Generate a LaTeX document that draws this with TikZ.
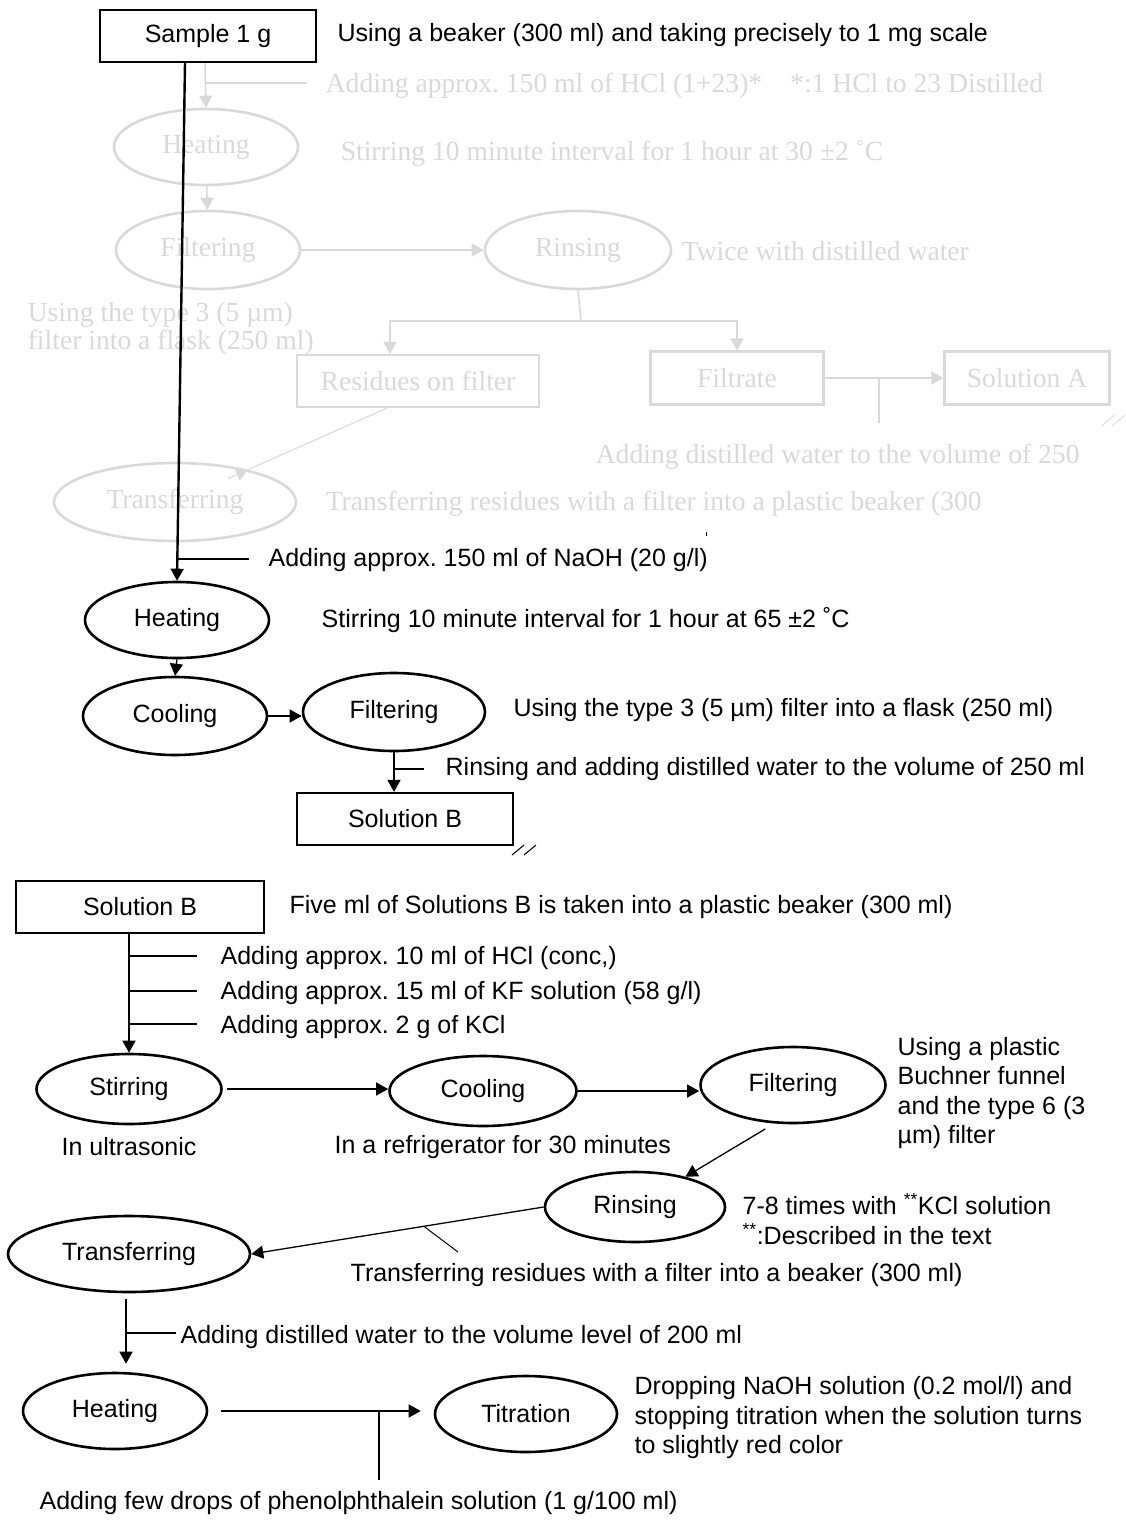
\documentclass[tikz,border=0pt]{standalone}
\usepackage{fontspec}
\setmainfont{Liberation Sans}
\newfontfamily\timesfont{Liberation Serif}
\usetikzlibrary{arrows.meta,shapes.geometric,calc}
\definecolor{faded}{RGB}{217,217,217}
\frenchspacing

\begin{document}
\begin{tikzpicture}[x=1pt,y=-1pt,>={Triangle[length=12pt,width=13pt]},line width=1.3pt,
  every node/.style={font=\fontsize{25}{29.5}\selectfont},
  proc node/.style={ellipse,draw,line width=2.6pt,inner sep=0pt,minimum width=184pt,minimum height=76pt},
  box node/.style={rectangle,draw,line width=2.2pt,inner sep=0pt,minimum height=52pt},
  note node/.style={anchor=west,inner sep=0pt,align=left},
  faded node/.style={color=faded,font=\timesfont\fontsize{27.6}{28.5}\selectfont}]

  \useasboundingbox (0,0) rectangle (1126,1520);

  % struck-out first route
  \begin{scope}[faded,line width=1.6pt]
    \node[proc node,faded node] (heatA) at (206,147) {Heating};
    \node[proc node,faded node,minimum height=78pt] (filtA) at (208,250) {Filtering};
    \node[proc node,faded node,minimum width=186pt,minimum height=78pt] (rinseA) at (578,250) {Rinsing};
    \node[box node,faded node,minimum width=242pt] (residues) at (418,381) {Residues on filter};
    \node[box node,faded node,minimum width=173pt,minimum height=53pt] (filtrate) at (737,378) {Filtrate};
    \node[box node,faded node,minimum width=165pt,minimum height=53pt] (solA) at (1027,378) {Solution A};
    \node[proc node,faded node,minimum width=242pt,minimum height=78pt] (transA) at (175,502) {Transferring};

    \node[note node,faded node] at (325,86) {Adding approx. 150 ml of HCl (1+23)*\hspace{28pt}*:1 HCl to 23 Distilled};
    \node[note node,faded node] at (340,153) {Stirring 10 minute interval for 1 hour at 30 ±2 ˚C};
    \node[note node,faded node] at (681,251) {Twice with distilled water};
    \node[note node,faded node] at (27,329) {Using the type 3 (5 µm)\\filter into a flask (250 ml)};
    \node[note node,faded node] at (595,457) {Adding distilled water to the volume of 250};
    \node[note node,faded node] at (325,504) {Transferring residues with a filter into a plastic beaker (300};

    \coordinate (hclA) at (307,83);
    \coordinate (split) at (581,321);
    \coordinate (dilA) at (879,423);
    \draw[->] (205,62) -- (heatA.north);
    \draw (hclA) -- (hclA -| heatA.north);
    \draw[->] (heatA) -- (filtA);
    \draw[->] (filtA) -- (rinseA);
    \draw (rinseA.south) -- (split);
    \draw[->] (split) -| ([xshift=-28pt]residues.north);
    \draw[->] (split) -| (filtrate.north);
    \draw[->] (filtrate) -- (solA);
    \draw (dilA) -- (dilA |- filtrate.east);
    \draw[line width=1pt] ([xshift=-31pt]residues.south) -- (transA);
    \draw[->,line width=1pt] ($([xshift=-31pt]residues.south)!0.75!(transA)$) -- (transA);
    \draw[line width=0.8pt] (1102,426) -- (1114,415) (1112,426) -- (1125,415);
  \end{scope}
  \draw[line width=1pt] (706,532) -- (706,536);

  % alkali route
  \node[box node,minimum width=216pt] (sample) at (208,36) {Sample 1 g};
  \node[proc node] (heatB) at (177,620) {Heating};
  \node[proc node,minimum height=78pt] (coolB) at (175,716) {Cooling};
  \node[proc node,minimum width=182pt,minimum height=78pt] (filtB) at (394,712) {Filtering};
  \node[box node,minimum width=216pt] (solB) at (405,819) {Solution B};

  \node[note node] at (337,35) {Using a beaker (300 ml) and taking precisely to 1 mg scale};
  \node[note node] at (268,560) {Adding approx. 150 ml of NaOH (20 g/l)};
  \node[note node] at (321,620) {Stirring 10 minute interval for 1 hour at 65 ±2 ˚C};
  \node[note node] at (513,710) {Using the type 3 (5 µm) filter into a flask (250 ml)};
  \node[note node] at (445,769) {Rinsing and adding distilled water to the volume of 250 ml};

  \coordinate (naoh) at (249,559);
  \coordinate (rinB) at (424,769);
  \draw[->,line width=2.4pt] ([xshift=-23pt]sample.south) -- (heatB.north);
  \draw (naoh) -- (naoh -| heatB.north);
  \draw[->] (heatB.south) -- (coolB.north);
  \draw[->] (coolB.east) -- (coolB.east -| filtB.west);
  \draw[->] (filtB.south) -- (filtB.south |- solB.north);
  \draw (rinB) -- (rinB -| filtB.south);
  \draw[line width=1pt] (512,855) -- (524,845) (524,855) -- (536,845);

  % fluoride titration
  \node[box node,minimum width=248pt] (solB2) at (140,907) {Solution B};
  \node[proc node,minimum width=185pt,minimum height=70pt] (stir) at (129,1089) {Stirring};
  \node[proc node,minimum width=187pt,minimum height=70pt] (coolC) at (483,1091) {Cooling};
  \node[proc node,minimum width=185pt] (filtC) at (793,1085) {Filtering};
  \node[proc node,minimum width=180pt,minimum height=70pt] (rinseC) at (635,1207) {Rinsing};
  \node[proc node,minimum width=242pt] (transC) at (129,1254) {Transferring};
  \node[proc node] (heatC) at (115,1411) {Heating};
  \node[proc node,minimum width=182pt] (titr) at (526,1414) {Titration};

  \node[note node] at (289,907) {Five ml of Solutions B is taken into a plastic beaker (300 ml)};
  \node[note node] at (220,958) {Adding approx. 10 ml of HCl (conc,)};
  \node[note node] at (220,993) {Adding approx. 15 ml of KF solution (58 g/l)};
  \node[note node] at (220,1027) {Adding approx. 2 g of KCl};
  \node[note node] at (61,1147) {In ultrasonic};
  \node[note node] at (334,1147) {In a refrigerator for 30 minutes};
  \node[note node] at (897,1093) {Using a plastic\\Buchner funnel\\and the type 6 (3\\µm) filter};
  \node[note node,align=left] at (742,1219) {7-8 times with \textsuperscript{**}KCl solution\\\textsuperscript{**}:Described in the text};
  \node[note node] at (350,1275) {Transferring residues with a filter into a beaker (300 ml)};
  \node[note node] at (180,1337) {Adding distilled water to the volume level of 200 ml};
  \node[note node] at (634,1418) {Dropping NaOH solution (0.2 mol/l) and\\stopping titration when the solution turns\\to slightly red color};
  \node[note node] at (39,1503) {Adding few drops of phenolphthalein solution (1 g/100 ml)};

  \coordinate (hclC) at (197,956);
  \coordinate (kfC) at (197,991);
  \coordinate (kclC) at (197,1024);
  \coordinate (waterC) at (176,1333);
  \coordinate (phen) at (379,1480);
  \coordinate (leader) at (458,1252);
  \draw[->] (stir.north |- solB2.south) -- (stir.north);
  \draw (hclC) -- (hclC -| stir.north);
  \draw (kfC) -- (kfC -| stir.north);
  \draw (kclC) -- (kclC -| stir.north);
  \draw[->,shorten <=4pt] (stir.east) -- (stir.east -| coolC.west);
  \draw[->] (coolC.east) -- (coolC.east -| filtC.west);
  \draw[->,shorten <=9pt] ([xshift=-20pt]filtC.south) -- (rinseC);
  \draw[->] (rinseC.west) -- (transC.east);
  \draw[line width=1pt] (leader) -- ($(rinseC.west)!0.41!(transC.east)$);
  \draw[->,shorten <=6pt,shorten >=8pt] ([xshift=-3pt]transC.south) -- ([xshift=-3pt]transC.south |- heatC.north);
  \draw (waterC) -- (waterC -| 126,0);
  \draw[->,shorten <=13pt,shorten >=13pt] (heatC.east) -- (heatC.east -| titr.west);
  \draw (phen) -- (phen |- heatC.east);

\end{tikzpicture}
\end{document}
